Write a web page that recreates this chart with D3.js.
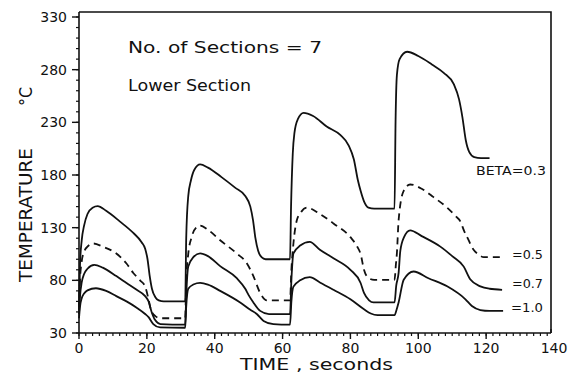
<!DOCTYPE html>
<html lang="en">
<head>
<meta charset="utf-8">
<title>Temperature vs time, lower section</title>
<script src="https://cdn.jsdelivr.net/npm/d3@7"></script>
<style>
  body { margin: 0; background: #fff; }
  text { font-family: "DejaVu Sans", sans-serif; fill: #111; }
</style>
</head>
<body>
<script>
// values: [time s, temperature C]
var beta03 = [[0,55],[0.3,95],[0.8,118],[1.5,132],[2.5,143],[4,149],[5.5,150.5],[8,146],[12,136],[16,125],[18.5,116],[19.5,110],[20.2,100],[20.8,85],[21.5,72],[22.5,64],[23.5,61],[25,60],[31,60],
  [31.3,60],[31.6,120],[32.2,160],[33,175],[34,185],[35.7,190],[38,187],[42,178],[46,168],[49,160],[50.5,150],[51.3,137],[52,120],[52.8,108],[53.8,102],[55,100],[62,100],
  [62.2,100],[62.5,150],[63,200],[63.5,220],[64.5,233],[66.2,239],[69,236],[73,226],[77,218],[79.5,208],[81,195],[82.2,175],[83,165],[84,155],[85.3,149],[87,148],[92.7,148],
  [93,148],[93.3,230],[93.7,275],[94.5,290],[96.7,297],[100,293],[104,285],[107.5,277],[110.5,266],[112,252],[113,235],[114,213],[115,202],[116.5,197],[118.5,196],[121,196]];
var beta05 = [[0,52],[0.3,80],[0.8,98],[1.5,107],[2.5,112],[4.2,115],[7,112],[11,105.5],[14,96],[16,87],[18,80],[19.5,74],[20.5,62],[21.2,52],[22.5,46],[24,44],[31,44],
  [31.3,44],[31.6,80],[32.2,105],[33.2,121],[34.7,130.5],[35.7,132],[38,128],[41.6,118],[46.5,105.5],[49.5,96],[51.4,84],[53.4,68],[55.4,61],[62,61],
  [62.2,61],[62.6,90],[63.2,115],[64.2,137],[65.5,145],[67.2,149],[71,143],[75,134],[80,121],[82,112],[83,105],[84,90],[85.4,82],[87,80.5],[92.7,80.5],
  [93,80.5],[93.4,95],[93.7,106],[94.2,137],[95.7,165],[97.6,171],[101,167],[104.5,159],[108.5,149],[111,141],[112.4,136],[113.5,127],[114.4,121],[116.3,109],[118,104],[119.3,102],[125,102]];
var beta07 = [[0,48],[0.3,65],[0.8,78],[1.5,86],[2.5,91],[4.5,94.7],[7,92],[11,84],[14,77.5],[17,71],[19.5,65],[20.5,60],[21.4,50],[22.5,42],[24,38.5],[31,38],
  [31.3,38],[31.6,65],[32.2,93],[33.7,102],[35.7,105.6],[38,103],[41.6,93.5],[46.5,82],[49,72],[50,66],[51.4,59],[53.4,51],[56,48],[62,48],
  [62.2,48],[62.6,80],[63.2,105.5],[65.2,113],[68,116.5],[71,109],[75,101],[80,90],[83,77.5],[84,68],[85.5,61],[86.8,59],[92.7,59],
  [93,59],[93.5,75],[94.2,87],[94.7,108],[95.8,121],[97.6,127.5],[101,122],[106.5,112],[110,103],[113.4,93],[115.3,81],[118.3,74.3],[121,72],[124.7,71]];
var beta10 = [[0,44],[0.3,55],[0.8,63],[1.5,67.5],[2.5,70.5],[5,72.5],[8,70],[11,65],[14,60],[17,54],[19.5,48],[20.5,45],[21.9,38.5],[23.9,35.3],[31,35],
  [31.3,35],[31.6,55],[32.2,72],[33.7,76],[35.7,77.5],[38,76],[41.6,70],[47.5,59],[50.5,52],[52.4,48],[54.4,41.5],[57.3,38.5],[62,38],
  [62.2,38],[62.6,60],[63.2,74],[65.2,80],[68,83],[71,78],[75,71],[80,62],[84,52.5],[86,48.5],[88,47],[92.7,47],
  [93,47],[93.6,52],[94.2,59],[95.7,80.5],[98.6,88.4],[103,82],[108.5,74.3],[113.9,62],[115.8,55.6],[118.3,51.8],[121,51],[125,51]];

var xTicks = [0, 20, 40, 60, 80, 100, 120, 140];
var yTicks = [30, 80, 130, 180, 230, 280, 330];
var seriesNames = ["BETA=0.3", "=0.5", "=0.7", "=1.0"];

var W = 575, H = 379;
var svg = d3.select("body").append("svg").attr("width", W).attr("height", H);

var x = d3.scaleLinear().domain([0, 140]).range([79, 554]);
var y = d3.scaleLinear().domain([30, 330]).range([333, 17]);

// frame (top and right sides)
svg.append("path")
  .attr("d", "M79,12H551V" + y(30))
  .attr("fill", "none").attr("stroke", "#111").attr("stroke-width", 1.6);

// x axis: minor every 2 s, major every 20 s, ticks downward
var xAxis = svg.append("g").attr("transform", "translate(0," + y(30) + ")");
xAxis.append("line").attr("x1", 79).attr("x2", 551).attr("stroke", "#111").attr("stroke-width", 1.6);
xAxis.selectAll(".minor").data(d3.range(0, 140, 2)).enter().append("line")
  .attr("x1", d => x(d)).attr("x2", d => x(d)).attr("y1", 0).attr("y2", 3)
  .attr("stroke", "#111").attr("stroke-width", 1.2);
xAxis.selectAll(".major").data(xTicks.slice(0, -1)).enter().append("line")
  .attr("x1", d => x(d)).attr("x2", d => x(d)).attr("y1", 0).attr("y2", 6)
  .attr("stroke", "#111").attr("stroke-width", 1.4);
xAxis.append("line").attr("x1", 551).attr("x2", 551).attr("y1", 0).attr("y2", -4)
  .attr("stroke", "#111").attr("stroke-width", 1.4);
xAxis.selectAll(".lbl").data(xTicks).enter().append("text")
  .attr("x", d => x(d)).attr("y", 20).attr("text-anchor", "middle")
  .style("font-size", "14px").text(d => d);

// y axis: minor every 10, major every 50, ticks to the left
var yAxis = svg.append("g").attr("transform", "translate(79,0)");
yAxis.append("line").attr("y1", 12).attr("y2", y(30)).attr("stroke", "#111").attr("stroke-width", 1.6);
yAxis.selectAll(".minor").data(d3.range(30, 331, 10)).enter().append("line")
  .attr("y1", d => y(d)).attr("y2", d => y(d)).attr("x1", -3).attr("x2", 0)
  .attr("stroke", "#111").attr("stroke-width", 1.2);
yAxis.selectAll(".major").data(yTicks).enter().append("line")
  .attr("y1", d => y(d)).attr("y2", d => y(d)).attr("x1", -7).attr("x2", 0)
  .attr("stroke", "#111").attr("stroke-width", 1.4);
yAxis.selectAll(".lbl").data(yTicks).enter().append("text")
  .attr("x", -12).attr("y", d => y(d) + 5).attr("text-anchor", "end")
  .style("font-size", "14px").text(d => d);

// curves
var line = d3.line().x(d => x(d[0])).y(d => y(d[1])).curve(d3.curveMonotoneX);
[beta03, beta05, beta07, beta10].forEach(function(s, i) {
  svg.append("path").datum(s).attr("d", line)
    .attr("fill", "none").attr("stroke", "#111").attr("stroke-width", 1.8)
    .attr("stroke-dasharray", i === 1 ? "7,5" : null);
});

// series labels
var labelPos = [[476, 175, 70], [512, 259, 31], [512, 288, 31], [511, 312, 32]];
svg.selectAll(".slbl").data(seriesNames).enter().append("text")
  .attr("x", (d, i) => labelPos[i][0]).attr("y", (d, i) => labelPos[i][1])
  .attr("textLength", (d, i) => labelPos[i][2]).attr("lengthAdjust", "spacingAndGlyphs")
  .style("font-size", "13px").text(d => d);

// annotations
svg.append("text").attr("x", 128).attr("y", 53).attr("textLength", 194)
  .attr("lengthAdjust", "spacingAndGlyphs").style("font-size", "16px").text("No.  of  Sections  =  7");
svg.append("text").attr("x", 128).attr("y", 91).attr("textLength", 123)
  .attr("lengthAdjust", "spacingAndGlyphs").style("font-size", "16px").text("Lower  Section");

// axis titles
svg.append("text").attr("x", 240).attr("y", 370).attr("textLength", 153)
  .attr("lengthAdjust", "spacingAndGlyphs").style("font-size", "15px").text("TIME  ,  seconds");
svg.append("text").attr("transform", "translate(32,282) rotate(-90)")
  .attr("textLength", 134).attr("lengthAdjust", "spacingAndGlyphs")
  .style("font-size", "17px").text("TEMPERATURE");
svg.append("text").attr("transform", "translate(32,106) rotate(-90)")
  .attr("textLength", 19).attr("lengthAdjust", "spacingAndGlyphs")
  .style("font-size", "17px").text("°C");
</script>
</body>
</html>
